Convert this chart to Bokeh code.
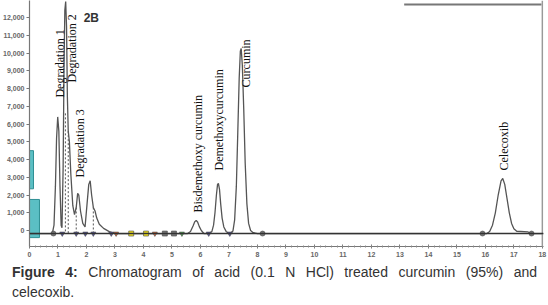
import numpy as np
from bokeh.plotting import figure
from bokeh.layouts import column
from bokeh.models import (Range1d, FixedTicker, NumeralTickFormatter, Label, Span,
                          ColumnDataSource, Div)
from bokeh.core.properties import value
from bokeh.embed import file_html
from bokeh.resources import INLINE

# ---------------- data ----------------
rt = [0.00, 0.80, 0.86, 0.91, 0.95, 0.99, 1.03, 1.07, 1.11, 1.14, 1.18, 1.21, 1.24, 1.27,
      1.30, 1.33, 1.36, 1.40, 1.45, 1.52, 1.58, 1.64, 1.69, 1.73, 1.79, 1.87, 1.95, 2.02,
      2.08, 2.13, 2.18, 2.24, 2.30, 2.36, 2.45, 2.60, 2.80, 3.00,
      5.55, 5.65, 5.74, 5.80, 5.85, 5.90, 5.96, 6.03, 6.12,
      6.30, 6.40, 6.46, 6.51, 6.56, 6.60, 6.63, 6.67, 6.71, 6.76, 6.82, 6.90, 7.00,
      7.05, 7.14, 7.20, 7.26, 7.31, 7.36, 7.40, 7.43, 7.47, 7.52, 7.57, 7.63, 7.69, 7.76,
      7.85, 8.00,
      16.05, 16.15, 16.25, 16.35, 16.45, 16.55, 16.61, 16.68, 16.76, 16.84, 16.92, 17.00,
      17.10, 17.50, 17.60, 18.04]
signal = [-170, -170, 300, 2500, 5200, 6400, 5600, 2500, 300, 150, 3500, 9000, 12400, 12900,
          11500, 7500, 5600, 5000, 3200, 1400, 900, 1300, 2100, 2000, 1100, 400, 200, 1500,
          2600, 2800, 2000, 1300, 1100, 700, 350, 120, -60, -170,
          -170, -60, 250, 500, 560, 480, 220, 0, -170,
          -170, -60, 300, 1000, 2000, 2600, 2650, 2300, 1500, 700, 200, -50, -170,
          -170, -30, 600, 2500, 5500, 8600, 10100, 10250, 9300, 6800, 3800, 1500, 400, 0,
          -120, -170,
          -170, -60, 300, 1000, 2000, 2800, 2930, 2600, 1800, 1000, 400, 100,
          -40, -80, -170, -170]

peak_names = ["Degradation 1", "Degradation 2", "Degradation 3", "Bisdemethoxy curcumin",
              "Demethoxycurcumin", "Curcumin", "Celecoxib"]
peak_rt = [1.08, 1.50, 1.78, 5.90, 6.66, 7.60, 16.64]
label_base = [7490, 8340, 2990, 1010, 3380, 8060, 3380]

# event markers on the baseline
mark_rt = [0.84, 1.15, 1.64, 1.96, 2.24, 2.87, 3.04, 3.57, 4.09, 4.40, 4.75, 5.07, 5.35,
           6.29, 7.03, 8.18, 15.90, 17.62]
mark_kind = ["circle", "inverted_triangle", "inverted_triangle", "inverted_triangle",
             "inverted_triangle", "inverted_triangle", "inverted_triangle", "square",
             "square", "inverted_triangle", "square", "square", "inverted_triangle",
             "inverted_triangle", "inverted_triangle", "circle", "circle", "circle"]
mark_color = ["#777777", "#5a5aa0", "#5a5aa0", "#5a5aa0", "#5a5aa0", "#5a5aa0", "#e07040",
              "#f0e020", "#f0e020", "#e07040", "#777777", "#777777", "#55aa55",
              "#5a5aa0", "#5a5aa0", "#777777", "#777777", "#777777"]

x_ticks = list(range(0, 19))
y_ticks = [0, 1000, 2000, 3000, 4000, 5000, 6000, 7000, 8000, 9000, 10000, 11000, 12000]

caption_bold = "Figure 4:"
caption_line1 = "Chromatogram of acid (0.1 N HCl) treated curcumin (95%) and"
caption_line2 = "celecoxib."

# ---------------- chart figure ----------------
p = figure(width=548, height=262, output_backend="svg", toolbar_location=None,
           x_range=Range1d(0, 18.04), y_range=Range1d(-900, 12958),
           min_border_left=27, min_border_right=5, min_border_top=0, min_border_bottom=16)
p.outline_line_color = None
p.grid.visible = False

p.xaxis.ticker = FixedTicker(ticks=x_ticks,
                             minor_ticks=[t / 5 for t in range(0, 91)])
p.yaxis.ticker = FixedTicker(ticks=y_ticks)
p.yaxis.formatter = NumeralTickFormatter(format="0,0")
for ax in (p.xaxis[0], p.yaxis[0]):
    ax.axis_line_color = "#777777"
    ax.axis_line_width = 1.2
    ax.major_tick_line_color = "#777777"
    ax.minor_tick_line_color = "#888888"
    ax.major_label_text_font = "Liberation Sans"
    ax.major_label_text_font_size = "7px"
    ax.major_label_text_color = "#666666"
    ax.major_label_text_font_style = "bold"
p.xaxis.major_tick_in = 2
p.xaxis.major_tick_out = 2
p.xaxis.minor_tick_in = 1
p.xaxis.minor_tick_out = 1
p.xaxis.major_label_standoff = 3
p.yaxis.major_tick_in = 0
p.yaxis.major_tick_out = 3
p.yaxis.minor_tick_line_color = None
p.yaxis.major_label_standoff = 2

# right border and top strip
p.add_layout(Span(location=18.0, dimension="height", line_color="#999999", line_width=1.5))
p.segment(x0=[13.15], y0=[12732], x1=[17.97], y1=[12732], line_color="#777777", line_width=2)

# teal boxes on the y axis
p.quad(left=[-0.2, -0.2], right=[0.14, 0.35], bottom=[2350, -400], top=[4500, 1750],
       fill_color="#5bbfc4", line_color="#2f8f94", line_width=1)

# baseline
p.add_layout(Span(location=-170, dimension="width", line_color="#333333", line_width=1.5))

# dotted split lines
p.segment(x0=[1.26, 1.36, 1.64, 2.24], y0=[6600, 5600, 1300, 1300],
          x1=[1.26, 1.36, 1.64, 2.24], y1=[-170, -170, -170, -170],
          line_color="#555555", line_dash="2 2", line_width=1)

# chromatogram
p.line(rt, signal, line_color="#555555", line_width=1.3)

# markers
src = ColumnDataSource(dict(x=mark_rt, y=[-170] * len(mark_rt), m=mark_kind, c=mark_color))
p.scatter("x", "y", marker="m", source=src, size=5, fill_color="c", line_color="#444444",
          line_width=0.6)

# peak labels (rotated)
p.text(x=peak_rt, y=label_base, text=peak_names, angle=np.pi / 2,
       text_font=value("Liberation Serif"), text_font_size="12px",
       text_align="left", text_baseline="middle", text_color="#111111")

p.add_layout(Label(x=1.90, y=12000, text="2B", text_font="Liberation Sans",
                   text_font_size="12px", text_font_style="bold", text_color="#333333",
                   text_baseline="middle"))

# ---------------- caption (justified HTML text) ----------------
cap_html = (
    '<div style="font-family:\'Liberation Sans\',Arial,sans-serif;font-size:14px;'
    'line-height:20px;color:#333333;margin:0 0 0 12px;width:525px;">'
    '<div style="text-align:justify;text-align-last:justify;">'
    '<b>' + caption_bold + '</b> ' + caption_line1 + '</div>'
    '<div style="text-align:left;">' + caption_line2 + '</div>'
    '</div>'
)
cap = Div(text=cap_html, width=548, height=43, margin=0)

open("out.html", "w").write(file_html(column(p, cap, spacing=0), INLINE))
